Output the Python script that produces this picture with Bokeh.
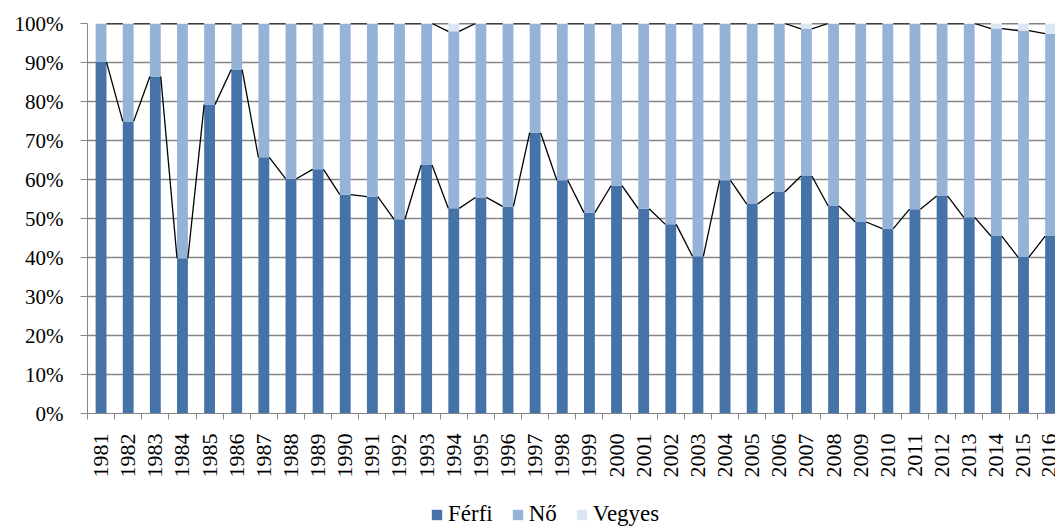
import math
from bokeh.plotting import figure
from bokeh.layouts import column
from bokeh.models import ColumnDataSource, FixedTicker, PrintfTickFormatter, Range1d, Legend, LegendItem
from bokeh.embed import file_html
from bokeh.resources import INLINE

years = [str(y) for y in range(1981, 2017)]
ferfi = [90.1, 74.9, 86.4, 39.8, 79.2, 88.2, 65.7, 60.2, 62.6, 56.1, 55.6, 49.8,
         63.7, 52.6, 55.4, 53.1, 72.0, 59.8, 51.5, 58.4, 52.5, 48.5, 40.3, 59.8,
         53.7, 56.8, 60.9, 53.2, 49.1, 47.4, 52.4, 55.8, 50.3, 45.5, 40.1, 45.5]
vegyes = [0, 0, 0, 0, 0, 0, 0, 0, 0, 0, 0, 0,
          0, 2.0, 0, 0, 0, 0, 0, 0, 0, 0, 0, 0,
          0, 0, 1.4, 0, 0, 0, 0, 0, 0, 1.3, 1.8, 2.6]
no = [round(100 - f - v, 1) for f, v in zip(ferfi, vegyes)]
series_names = ["Férfi", "Nő", "Vegyes"]
colors = ["#4572A7", "#95B3D7", "#DCE6F2"]

FONT = "Liberation Serif"
GRAY = "#868686"

xs = list(range(len(years)))
src = ColumnDataSource(dict(x=xs, ferfi=ferfi, no=no, vegyes=vegyes))

p = figure(width=1055, height=480, output_backend="svg", toolbar_location=None,
           x_range=Range1d(-0.5, 35.18), y_range=Range1d(0, 100),
           min_border_left=87, min_border_right=0, min_border_top=23,
           min_border_bottom=67)
p.outline_line_color = None

bw = 0.4
rs = p.vbar_stack(["ferfi", "no", "vegyes"], x="x", width=bw, color=colors,
                  line_color=None, source=src)

# series lines
t1 = ferfi
t2 = [f + n for f, n in zip(ferfi, no)]
t3 = [f + n + v for f, n, v in zip(ferfi, no, vegyes)]
x0 = [x + bw / 2 for x in xs[:-1]]
x1 = [x - bw / 2 for x in xs[1:]]
for t in (t1, t2, t3):
    p.segment(x0=x0, y0=t[:-1], x1=x1, y1=t[1:], line_color="black", line_width=1.3)

# axes
p.xgrid.visible = False
p.ygrid.grid_line_color = GRAY
p.ygrid.grid_line_width = 1.3
p.ygrid.ticker = FixedTicker(ticks=list(range(0, 101, 10)))

p.yaxis.ticker = FixedTicker(ticks=list(range(0, 101, 10)))
p.yaxis.formatter = PrintfTickFormatter(format="%d%%")
p.yaxis.axis_line_color = GRAY
p.yaxis.major_tick_line_color = GRAY
p.yaxis.major_tick_in = 0
p.yaxis.major_tick_out = 7
p.yaxis.minor_tick_line_color = None
p.yaxis.major_label_standoff = 17
p.yaxis.major_label_text_font = FONT
p.yaxis.major_label_text_font_size = "21px"
p.yaxis.major_label_text_color = "black"

p.xaxis.ticker = FixedTicker(ticks=xs, minor_ticks=[x - 0.5 for x in xs] + [xs[-1] + 0.5])
p.xaxis.major_label_overrides = {x: y for x, y in zip(xs, years)}
p.xaxis.major_label_orientation = math.pi / 2
p.xaxis.axis_line_color = GRAY
p.xaxis.major_tick_line_color = None
p.xaxis.major_tick_out = 0
p.xaxis.major_tick_in = 0
p.xaxis.minor_tick_line_color = GRAY
p.xaxis.minor_tick_in = 0
p.xaxis.minor_tick_out = 6
p.xaxis.major_label_standoff = 14
p.xaxis.major_label_text_font = FONT
p.xaxis.major_label_text_font_size = "22px"
p.xaxis.major_label_text_color = "black"

# legend in a separate strip below the chart
lg = figure(width=1055, height=47, output_backend="svg", toolbar_location=None,
            x_range=Range1d(0, 1), y_range=Range1d(0, 1),
            min_border_left=0, min_border_right=0, min_border_top=0, min_border_bottom=0)
lg.axis.visible = False
lg.grid.visible = False
lg.outline_line_color = None
lrs = [lg.rect(x=[-5], y=[-5], width=1, height=1, fill_color=c, line_color=None) for c in colors]
legend = Legend(items=[LegendItem(label=n, renderers=[r]) for n, r in zip(series_names, lrs)],
                orientation="horizontal", location=(343, 0))
legend.glyph_width = 13
legend.glyph_height = 13
legend.label_standoff = 5
legend.spacing = 18
legend.padding = 0
legend.margin = 0
legend.border_line_color = None
legend.background_fill_alpha = 0
legend.label_text_font = FONT
legend.label_text_font_size = "23px"
legend.label_text_color = "black"
lg.add_layout(legend, "center")

layout = column(p, lg, spacing=0)
open("out.html", "w").write(file_html(layout, INLINE))
